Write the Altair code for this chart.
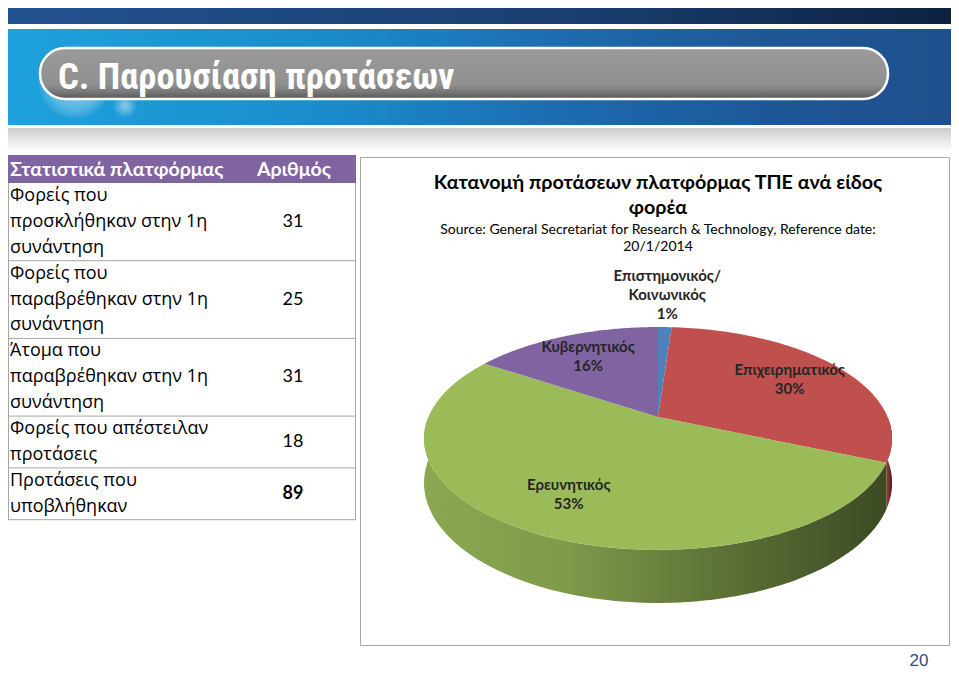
import altair as alt
import pandas as pd

# ---------------- data ----------------
pie_categories = ["Επιστημονικός/\nΚοινωνικός", "Επιχειρηματικός", "Ερευνητικός", "Κυβερνητικός"]
pie_counts = [1, 27, 47, 14]
pie_colors = ["#4f81bd", "#c0504d", "#9bbb59", "#8064a2"]
side_colors = ["#3c6494", "#973a38", "#8aa851", "#634d80"]

table_header = ["Στατιστικά πλατφόρμας", "Αριθμός"]
table_labels = [
    "Φορείς που\nπροσκλήθηκαν στην 1η\nσυνάντηση",
    "Φορείς που\nπαραβρέθηκαν στην 1η\nσυνάντηση",
    "Άτομα που\nπαραβρέθηκαν στην 1η\nσυνάντηση",
    "Φορείς που απέστειλαν\nπροτάσεις",
    "Προτάσεις που\nυποβλήθηκαν",
]
table_values = [31, 25, 31, 18, 89]

slide_title = "C. Παρουσίαση προτάσεων"
chart_title = ["Κατανομή προτάσεων πλατφόρμας ΤΠΕ ανά είδος", "φορέα"]
chart_subtitle = ["Source: General Secretariat for Research & Technology,  Reference date:", "20/1/2014"]
page_number = "20"

# ---------------- layout ----------------
X0, X1, Y0, Y1 = 8, 951, 8, 673
xs = alt.Scale(domain=[X0, X1], nice=False, zero=False)
ys = alt.Scale(domain=[Y1, Y0], nice=False, zero=False)
one = pd.DataFrame({"z": [0]})

TITLE_FONT = "Lato, Noto Sans, sans-serif"
BODY_FONT = "Open Sans, Noto Sans, sans-serif"


def box(x, x2, y, y2, **mk):
    return alt.Chart(one).mark_rect(**mk).encode(
        x=alt.XDatum(x, scale=xs, axis=None), x2=alt.X2Datum(x2),
        y=alt.YDatum(y, scale=ys, axis=None), y2=alt.Y2Datum(y2))


def rule(x, x2, y, y2, **mk):
    return alt.Chart(one).mark_rule(**mk).encode(
        x=alt.XDatum(x, scale=xs, axis=None), x2=alt.X2Datum(x2),
        y=alt.YDatum(y, scale=ys, axis=None), y2=alt.Y2Datum(y2))


def label(txt, x, y, **mk):
    return alt.Chart(one).mark_text(text=txt, **mk).encode(
        x=alt.XDatum(x, scale=xs, axis=None), y=alt.YDatum(y, scale=ys, axis=None))


def lin(stops, vertical=False):
    return alt.Gradient(
        gradient="linear",
        stops=[alt.GradientStop(offset=o, color=c) for o, c in stops],
        x1=0, y1=0, x2=0 if vertical else 1, y2=1 if vertical else 0)


# ---------------- slide decoration ----------------
layers = [
    box(0, 959, 0, 24, fill=lin([(0, "#22528f"), (0.6, "#1a3f70"), (1, "#0d2140")])),
    box(0, 959, 29, 125, fill=lin([(0, "#1ea2dd"), (0.35, "#1a8bcb"), (0.6, "#1c6aad"), (0.8, "#1e5797"), (1, "#1f4f8c")])),
    box(0, 959, 128, 152, fill=lin([(0, "#cdcdcd"), (1, "#ffffff")], vertical=True)),
    alt.Chart(one).mark_point(shape="circle", filled=True, size=5600, opacity=1,
                              fill=alt.RadialGradient(gradient="radial",
                                                      stops=[alt.GradientStop(offset=0, color="rgba(255,255,255,0.55)"),
                                                             alt.GradientStop(offset=0.7, color="rgba(200,235,255,0.35)"),
                                                             alt.GradientStop(offset=1, color="rgba(255,255,255,0)")]))
    .encode(x=alt.XDatum(75, scale=xs, axis=None), y=alt.YDatum(82, scale=ys, axis=None)),
    alt.Chart(one).mark_point(shape="circle", filled=True, size=600, opacity=1,
                              fill=alt.RadialGradient(gradient="radial",
                                                      stops=[alt.GradientStop(offset=0, color="rgba(255,255,255,0.5)"),
                                                             alt.GradientStop(offset=1, color="rgba(255,255,255,0)")]))
    .encode(x=alt.XDatum(125, scale=xs, axis=None), y=alt.YDatum(106, scale=ys, axis=None)),
    box(40, 888, 48, 99, cornerRadius=25, stroke="white", strokeWidth=2.5,
        fill=lin([(0, "#9a9a9a"), (0.72, "#909090"), (0.88, "#747474"), (1, "#555555")], vertical=True)),
    label(slide_title, 58, 89, font="Roboto Condensed, Liberation Sans Narrow, Liberation Sans", fontSize=36.5,
          fontWeight="bold", color="white", align="left", baseline="alphabetic"),
    # chart frame
    box(360.5, 949.5, 157.5, 645.5, fill="white", stroke="#a6a6a6", strokeWidth=1),
    # table header
    box(8, 356, 155, 183, fill="#8064a2"),
    label(table_header[0], 10, 170, font=TITLE_FONT, fontSize=19.5, fontWeight="bold", color="white",
          align="left", baseline="middle"),
    label(table_header[1], 294, 170, font=TITLE_FONT, fontSize=19.5, fontWeight="bold", color="white",
          align="center", baseline="middle"),
    rule(8.5, 8.5, 183, 520, color="#a6a6a6", strokeWidth=1),
    rule(355.5, 355.5, 183, 520, color="#a6a6a6", strokeWidth=1),
    # chart titles
    label(chart_title, 658, 183, font=TITLE_FONT, fontSize=19.7, fontWeight="bold", color="#000000",
          align="center", baseline="middle", lineHeight=25),
    label(chart_subtitle, 658, 229.5, font=TITLE_FONT, fontSize=14, color="#000000",
          align="center", baseline="middle", lineHeight=17),
    label(page_number, 919, 661, font="Liberation Sans, Arial", fontSize=17, color="#2d4f7c",
          align="center", baseline="middle"),
]

# ---------------- table ----------------
ROW = 25.9
tab_df = pd.DataFrame({"label": table_labels, "value": table_values, "idx": list(range(len(table_values)))})
tab = (alt.Chart(tab_df)
       .transform_calculate(lines="length(split(datum.label, '\\n'))")
       .transform_window(cum="sum(lines)", sort=[alt.SortField("idx", order="ascending")], frame=[None, 0])
       .transform_calculate(bottom=f"183 + {ROW} * datum.cum",
                            mid=f"183 + {ROW} * (datum.cum - datum.lines / 2)")
       .transform_calculate(first=f"datum.mid - (datum.lines - 1) * {ROW} / 2"))
layers += [
    tab.mark_rule(color="#a6a6a6", strokeWidth=1).encode(
        x=alt.XDatum(8, scale=xs, axis=None), x2=alt.X2Datum(356),
        y=alt.Y("bottom:Q", scale=ys, axis=None)),
    tab.mark_text(align="left", baseline="middle", lineBreak="\n", lineHeight=ROW, fontSize=18,
                  font=BODY_FONT, color="#000000").encode(
        x=alt.XDatum(10, scale=xs, axis=None), y=alt.Y("first:Q", scale=ys, axis=None), text="label:N"),
    tab.transform_filter(f"datum.idx < {len(table_values) - 1}").mark_text(
        align="center", baseline="middle", fontSize=18, font=TITLE_FONT, color="#000000").encode(
        x=alt.XDatum(293, scale=xs, axis=None), y=alt.Y("mid:Q", scale=ys, axis=None), text="value:Q"),
    tab.transform_filter(f"datum.idx == {len(table_values) - 1}").mark_text(
        align="center", baseline="middle", fontSize=18, fontWeight="bold", font=TITLE_FONT, color="#000000").encode(
        x=alt.XDatum(293, scale=xs, axis=None), y=alt.Y("mid:Q", scale=ys, axis=None), text="value:Q"),
]

# ---------------- 3-D pie ----------------
CX, CY, A, B, P, D = 658, 417, 229.6, 107.3, 0.1927, 42.8
N = 90
LH = 19
pie_df = pd.DataFrame({"cat": pie_categories, "count": pie_counts, "idx": list(range(len(pie_counts)))})
pie = (alt.Chart(pie_df)
       .transform_joinaggregate(total="sum(count)")
       .transform_window(cum="sum(count)", sort=[alt.SortField("idx", order="ascending")], frame=[None, 0])
       .transform_calculate(t0="(datum.cum - datum.count) / datum.total * 2 * PI")
       .transform_calculate(t1="datum.cum / datum.total * 2 * PI")
       .transform_calculate(frac="datum.count / datum.total"))

enc_xy = dict(x=alt.X("px:Q", scale=xs, axis=None), y=alt.Y("py:Q", scale=ys, axis=None),
              order=alt.Order("k:Q"), detail="cat:N")

side = (pie.transform_calculate(ta="max(datum.t0, PI / 2)")
        .transform_calculate(tb="min(datum.t1, 3 * PI / 2)")
        .transform_filter("datum.tb > datum.ta")
        .transform_calculate(k=f"sequence(0, {2 * N + 2})")
        .transform_flatten(["k"])
        .transform_calculate(j=f"datum.k <= {N} ? datum.k : {2 * N + 1} - datum.k")
        .transform_calculate(t=f"datum.ta + (datum.tb - datum.ta) * datum.j / {N}")
        .transform_calculate(den=f"1 + {P} * cos(datum.t)")
        .transform_calculate(px=f"{CX} + {A} * sin(datum.t) / datum.den")
        .transform_calculate(py=f"{CY} - {B} * cos(datum.t) / datum.den + (datum.k > {N} ? {D} / datum.den : 0)"))

side_fill = side.mark_line(filled=True, interpolate="linear-closed").encode(
    color=alt.Color("cat:N", scale=alt.Scale(domain=pie_categories, range=side_colors), legend=None), **enc_xy)
side_shade = side.mark_line(
    filled=True, interpolate="linear-closed",
    fill=lin([(0, "rgba(0,0,0,0)"), (0.3, "rgba(0,0,0,0.08)"), (0.65, "rgba(0,0,0,0.33)"), (1, "rgba(0,0,0,0.56)")])
).encode(**enc_xy)

top = (pie.transform_calculate(k=f"sequence(-1, {N + 1})")
       .transform_flatten(["k"])
       .transform_calculate(t=f"datum.t0 + (datum.t1 - datum.t0) * max(datum.k, 0) / {N}")
       .transform_calculate(r="datum.k < 0 ? 0 : 1")
       .transform_calculate(den=f"1 + {P} * datum.r * cos(datum.t)")
       .transform_calculate(px=f"{CX} + {A} * datum.r * sin(datum.t) / datum.den")
       .transform_calculate(py=f"{CY} - {B} * datum.r * cos(datum.t) / datum.den")
       .mark_line(filled=True, interpolate="linear-closed")
       .encode(color=alt.Color("cat:N", scale=alt.Scale(domain=pie_categories, range=pie_colors), legend=None),
               **enc_xy))

pie_text = (pie.transform_calculate(tm="(datum.t0 + datum.t1) / 2")
            .transform_calculate(r="datum.frac < 0.05 ? 1.45 : 0.72")
            .transform_calculate(den=f"1 + {P} * datum.r * cos(datum.tm)")
            .transform_calculate(lbl="datum.cat + '\\n' + format(datum.frac, '.0%')")
            .transform_calculate(nl="length(split(datum.lbl, '\\n'))")
            .transform_calculate(px=f"{CX} + {A} * datum.r * sin(datum.tm) / datum.den")
            .transform_calculate(py=f"{CY} - {B} * datum.r * cos(datum.tm) / datum.den - (datum.nl - 1) * {LH} / 2")
            .mark_text(lineBreak="\n", lineHeight=LH, fontSize=15, fontWeight="bold", font=TITLE_FONT,
                       color="#262626", align="center", baseline="middle")
            .encode(x=alt.X("px:Q", scale=xs, axis=None), y=alt.Y("py:Q", scale=ys, axis=None), text="lbl:N"))

layers += [side_fill, side_shade, top, pie_text]

chart = (alt.layer(*layers)
         .resolve_scale(color="independent")
         .properties(width=X1 - X0, height=Y1 - Y0, padding=0, background="white",
                     autosize=alt.AutoSizeParams(type="none"))
         .configure_view(stroke=None))

chart.save("out.html", embed_options={"renderer": "svg", "actions": False})
